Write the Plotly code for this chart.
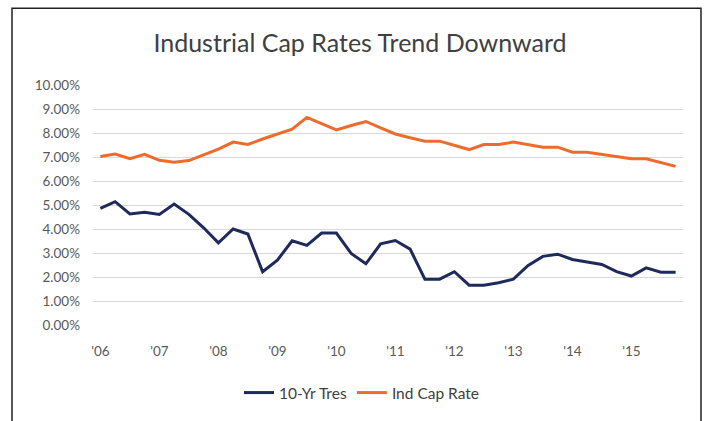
import plotly.graph_objects as go

quarters = [f"{y}Q{q}" for y in range(2006, 2016) for q in range(1, 5)]
year_ticks = [f"{y}Q1" for y in range(2006, 2016)]
year_labels = ["'06", "'07", "'08", "'09", "'10", "'11", "'12", "'13", "'14", "'15"]

treasury_10yr = [4.86, 5.14, 4.63, 4.70, 4.61, 5.04, 4.61, 4.05, 3.42, 4.00,
                 3.79, 2.22, 2.70, 3.51, 3.32, 3.83, 3.83, 2.98, 2.55, 3.38,
                 3.52, 3.16, 1.91, 1.91, 2.22, 1.66, 1.66, 1.76, 1.91, 2.48,
                 2.86, 2.95, 2.73, 2.63, 2.52, 2.22, 2.04, 2.38, 2.20, 2.20]

ind_cap_rate = [7.02, 7.12, 6.93, 7.11, 6.86, 6.78, 6.85, 7.08, 7.33, 7.62,
                7.52, 7.75, 7.96, 8.16, 8.65, 8.40, 8.13, 8.31, 8.48, 8.21,
                7.96, 7.80, 7.66, 7.66, 7.48, 7.31, 7.52, 7.52, 7.62, 7.52,
                7.41, 7.41, 7.20, 7.20, 7.11, 7.02, 6.93, 6.93, 6.76, 6.61]

W, H = 712, 421
L, R, T, B = 93, 683, 85, 326  # plot area in pixels

FONT = "Lato, Open Sans, sans-serif"
GRAY = "#595959"

fig = go.Figure()
fig.add_trace(go.Scatter(x=quarters, y=treasury_10yr, mode="lines", name="10-Yr Tres",
                         line=dict(color="#1f2a5c", width=3)))
fig.add_trace(go.Scatter(x=quarters, y=ind_cap_rate, mode="lines", name="Ind Cap Rate",
                         line=dict(color="#ee6b2b", width=3)))

def px_x(p):
    return (p - L) / (R - L)

def px_y(p):
    return (B - p) / (B - T)

fig.update_layout(
    width=W, height=H,
    margin=dict(l=L, r=W - R, t=T, b=H - B, pad=0),
    paper_bgcolor="white", plot_bgcolor="white",
    font=dict(family=FONT, color=GRAY, size=13),
    title=dict(text="Industrial Cap Rates Trend Downward", x=360 / W, xanchor="center",
               y=1 - 43 / H, yanchor="middle", xref="container", yref="container",
               font=dict(family=FONT, size=25, color="#404040")),
    xaxis=dict(type="category", range=[-0.5, 39.5], tickmode="array",
               tickvals=year_ticks, ticktext=year_labels, showgrid=False,
               showline=False, zeroline=False, ticks="", ticklabelstandoff=16,
               tickfont=dict(size=13.5, color=GRAY)),
    yaxis=dict(range=[0, 10], dtick=1, tickformat=".2f", ticksuffix="%",
               showgrid=True, gridcolor="#d9d9d9", gridwidth=1, zeroline=False,
               showline=False, ticks="", ticklabelstandoff=12,
               tickfont=dict(size=13.5, color=GRAY)),
    legend=dict(orientation="h", x=px_x(362), xanchor="center", y=px_y(393),
                yanchor="middle", font=dict(size=15.5, color="#404040"),
                bgcolor="rgba(0,0,0,0)", itemwidth=30),
    shapes=[dict(type="rect", xref="paper", yref="paper",
                 x0=px_x(12), x1=px_x(701), y0=px_y(440), y1=px_y(8),
                 line=dict(color="#222222", width=1.5), layer="above")],
)

fig.write_html("out.html")
